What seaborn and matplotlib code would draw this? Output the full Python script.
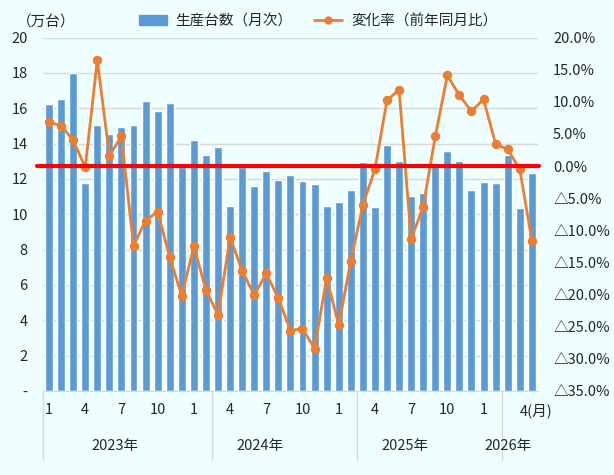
import numpy as np
import pandas as pd
import matplotlib
matplotlib.use('Agg')
import matplotlib.pyplot as plt
import matplotlib.transforms as mtransforms
from matplotlib.patches import Patch
from matplotlib.lines import Line2D
import seaborn as sns

# 月次データ（2023年1月〜2026年5月）
months = [f'{y}-{m:02d}' for y in range(2023, 2027) for m in range(1, 13)][:41]
production = [16.25, 16.53, 18.0, 11.77, 15.06, 14.55, 14.94, 15.06, 16.42, 15.85,
              16.30, 12.7, 14.21, 13.36, 13.81, 10.47, 12.7, 11.6, 12.45, 11.94,
              12.23, 11.89, 11.72, 10.47, 10.70, 11.38, 12.96, 10.42, 13.92, 13.02,
              11.04, 11.21, 12.75, 13.58, 13.02, 11.38, 11.83, 11.77, 13.36, 10.36,
              12.34]
rates = [6.8, 6.3, 4.0, -0.2, 16.5, 1.6, 4.6, -12.4, -8.5, -7.1,
         -14.2, -20.2, -12.5, -19.3, -23.2, -11.1, -16.3, -20.1, -16.7, -20.6,
         -25.6, -25.3, -28.4, -17.4, -24.8, -14.8, -6.1, -0.5, 10.2, 11.9,
         -11.4, -6.3, 4.6, 14.1, 11.0, 8.5, 10.4, 3.4, 2.6, -0.5,
         -11.6]
year_labels = ['2023年', '2024年', '2025年', '2026年']
year_centers = [5.5, 17.5, 29.5, 38.0]
year_separators = [-0.5, 13.5, 25.5, 37.5]

BG = '#EFFEFF'
BLUE = '#5B9BD5'
ORANGE = '#ED7D31'
TXT = '#262626'
GRID = '#D9D9D9'

sns.set_style('white')
plt.rcParams['font.family'] = ['Noto Sans CJK JP', 'DejaVu Sans']
plt.rcParams['font.size'] = 10

df = pd.DataFrame({'month': months, 'production': production, 'rate': rates})
df['pos'] = np.arange(len(df))

fig = plt.figure(figsize=(6.14, 4.75), dpi=100, facecolor=BG)
ax = fig.add_axes([0.070, 0.177, 0.806, 0.744])
ax.set_facecolor(BG)

sns.barplot(data=df, x='pos', y='production', color=BLUE, width=0.66,
            saturation=1, ax=ax, zorder=2)
ax.set_ylim(0, 20)
ax.set_xlim(-0.5, len(df) - 0.5)
ax.set_yticks(np.arange(0, 21, 2))
ax.set_yticklabels(['-'] + [str(v) for v in range(2, 21, 2)])
ax.yaxis.grid(True, color=GRID, linewidth=1, zorder=0)
ax.set_axisbelow(True)

# 月ラベル
mon = [int(m[-2:]) for m in months]
tick_pos = [i for i, m in enumerate(mon) if m in (1, 4, 7, 10) and i <= 39]
tick_lab = [str(mon[i]) for i in tick_pos]
tick_lab[-1] = '4(月)'
ax.set_xticks(tick_pos)
ax.set_xticklabels(tick_lab)
last = ax.get_xticklabels()[-1]
last.set_horizontalalignment('left')
last.set_transform(last.get_transform() +
                   mtransforms.ScaledTranslation(-4 / 72, 0, fig.dpi_scale_trans))
ax.tick_params(axis='x', length=0, pad=9, colors=TXT, labelsize=10.5)
ax.tick_params(axis='y', length=0, pad=11, colors=TXT, labelsize=10.5)
ax.set_xlabel('')
ax.set_ylabel('')
for s in ['left', 'right', 'top']:
    ax.spines[s].set_visible(False)
ax.spines['bottom'].set_color(GRID)

# 前年同月比
ax2 = ax.twinx()
sns.lineplot(data=df, x='pos', y='rate', color=ORANGE, marker='o', markersize=6,
             markeredgecolor=ORANGE, linewidth=2, ax=ax2, zorder=3)
ax2.set_ylim(-35, 20)
ax2.set_yticks(np.arange(-35, 21, 5))
ax2.set_yticklabels([f'△{-v:.1f}%' if v < 0 else f'{v:.1f}%'
                     for v in np.arange(-35, 21, 5)])
ax2.tick_params(axis='y', length=0, pad=11, colors=TXT, labelsize=10.5)
ax2.set_xlabel('')
ax2.set_ylabel('')
for s in ['left', 'right', 'top', 'bottom']:
    ax2.spines[s].set_visible(False)
ax2.axhline(0, xmin=-0.013, xmax=1.003, color='#FF0000', linewidth=3,
            zorder=5, clip_on=False)

# 年ラベルと区切り線
trans = mtransforms.blended_transform_factory(ax.transData, ax.transAxes)
for xs in year_separators:
    ax.plot([xs, xs], [0, -0.195], transform=trans, color=GRID,
            linewidth=1, clip_on=False)
for xc, lab in zip(year_centers, year_labels):
    ax.text(xc, -0.156, lab, transform=trans, ha='center', va='center',
            color=TXT, fontsize=10.5)

fig.text(0.028, 0.955, '（万台）', ha='left', va='center', color=TXT, fontsize=10.5)

handles = [Patch(facecolor=BLUE, edgecolor=BLUE),
           Line2D([0], [0], color=ORANGE, linewidth=2, marker='o', markersize=5)]
fig.legend(handles, ['生産台数（月次）', '変化率（前年同月比）'], ncol=2,
           loc='center', bbox_to_anchor=(0.518, 0.955), frameon=False,
           handlelength=1.9, handletextpad=0.6, columnspacing=1.5,
           fontsize=10.5, labelcolor=TXT)

fig.savefig('out.png', dpi=100, facecolor=BG)
